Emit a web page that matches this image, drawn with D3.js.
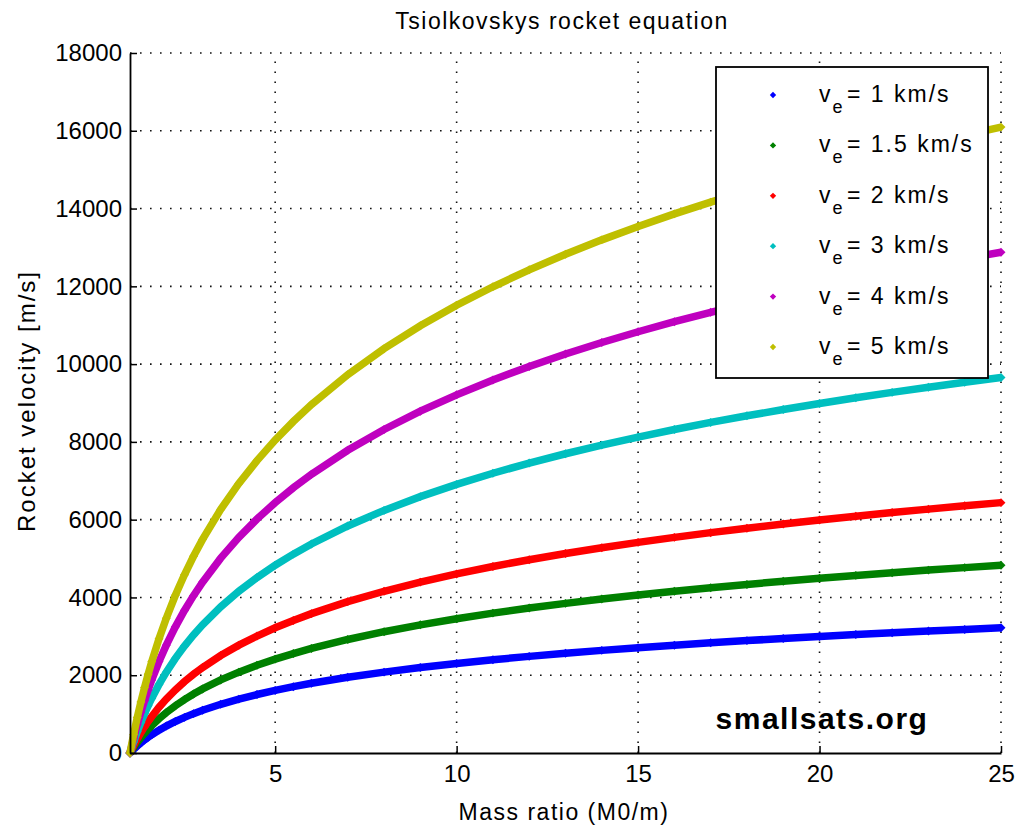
<!DOCTYPE html>
<html>
<head>
<meta charset="utf-8">
<script src="https://cdn.jsdelivr.net/npm/d3@7"></script>
<style>
  body { margin: 0; background: #fff; }
  svg text { font-family: "Liberation Sans", Arial, sans-serif; fill: #000; }
</style>
</head>
<body>
<svg id="chart" width="1016" height="828"></svg>
<script>
// mass ratio samples (M0/m)
var massRatio = [1, 1.1, 1.2, 1.3, 1.4, 1.5, 1.6, 1.8, 2, 2.25, 2.5, 2.75, 3, 3.5, 4, 4.5, 5, 5.5, 6, 7, 8, 9, 10,
    11, 12, 13, 14, 15, 16, 17, 18, 19, 20, 21, 22, 23, 24, 25];

// rocket velocity [m/s], one list per exhaust velocity
var ve1 = [0, 95, 182, 262, 336, 405, 470, 588, 693, 811, 916, 1012, 1099, 1253, 1386, 1504, 1609, 1705, 1792, 1946,
    2079, 2197, 2303, 2398, 2485, 2565, 2639, 2708, 2773, 2833, 2890, 2944, 2996, 3045, 3091, 3135, 3178, 3219];
var ve15 = [0, 143, 273, 394, 504, 608, 705, 882, 1040, 1216, 1374, 1517, 1648, 1879, 2079, 2256, 2414, 2557, 2688, 2919,
    3119, 3296, 3454, 3597, 3727, 3847, 3959, 4062, 4159, 4250, 4335, 4417, 4494, 4567, 4636, 4703, 4767, 4828];
var ve2 = [0, 191, 365, 525, 673, 811, 940, 1176, 1386, 1622, 1833, 2023, 2197, 2506, 2773, 3008, 3219, 3409, 3584, 3892,
    4159, 4394, 4605, 4796, 4970, 5130, 5278, 5416, 5545, 5666, 5781, 5889, 5991, 6089, 6182, 6271, 6356, 6438];
var ve3 = [0, 286, 547, 787, 1009, 1216, 1410, 1763, 2079, 2433, 2749, 3035, 3296, 3758, 4159, 4512, 4828, 5114, 5375, 5838,
    6238, 6592, 6908, 7194, 7455, 7695, 7917, 8124, 8318, 8500, 8671, 8833, 8987, 9134, 9273, 9407, 9534, 9657];
var ve4 = [0, 381, 729, 1049, 1346, 1622, 1880, 2351, 2773, 3244, 3665, 4046, 4394, 5011, 5545, 6016, 6438, 6819, 7167, 7784,
    8318, 8789, 9210, 9592, 9940, 10260, 10556, 10832, 11090, 11333, 11562, 11778, 11983, 12178, 12364, 12542, 12712, 12876];
var ve5 = [0, 477, 912, 1312, 1682, 2027, 2350, 2939, 3466, 4055, 4581, 5058, 5493, 6264, 6931, 7520, 8047, 8524, 8959, 9730,
    10397, 10986, 11513, 11989, 12425, 12825, 13195, 13540, 13863, 14166, 14452, 14722, 14979, 15223, 15455, 15677, 15890, 16094];

var seriesNames = ["1", "1.5", "2", "3", "4", "5"];
var seriesValues = [ve1, ve15, ve2, ve3, ve4, ve5];
var seriesColors = ["#0000ff", "#008000", "#ff0000", "#00bfbf", "#bf00bf", "#bfbf00"];

var xTicks = [5, 10, 15, 20, 25];
var yTicks = [0, 2000, 4000, 6000, 8000, 10000, 12000, 14000, 16000, 18000];

function drawChart() {
    var pLeft = 130, pRight = 1001, pTop = 53, pBottom = 753;

    var svg = d3.select("#chart");

    var x = d3.scaleLinear().domain([1, 25]).range([pLeft, pRight]);
    var y = d3.scaleLinear().domain([0, 18000]).range([pBottom, pTop]);

    // dotted grid
    var grid = svg.append("g")
        .attr("stroke", "#111")
        .attr("stroke-width", 1.6)
        .attr("stroke-dasharray", "1.6,8.4");
    grid.selectAll("line.gx")
        .data(xTicks)
        .enter().append("line")
        .attr("x1", d => x(d)).attr("x2", d => x(d))
        .attr("y1", pBottom).attr("y2", pTop);
    grid.selectAll("line.gy")
        .data(yTicks.filter(d => d > 0))
        .enter().append("line")
        .attr("x1", pLeft).attr("x2", pRight)
        .attr("y1", d => y(d)).attr("y2", d => y(d));

    // curves: thick band + diamond markers
    var line = d3.line()
        .x((d, i) => x(massRatio[i]))
        .y(d => y(d));
    var diamond = d3.symbol().type(d3.symbolSquare).size(40);

    seriesValues.forEach(function (vals, k) {
        var g = svg.append("g");
        g.append("path")
            .attr("d", line(vals))
            .attr("fill", "none")
            .attr("stroke", seriesColors[k])
            .attr("stroke-width", 7.5);
        g.selectAll("path.m")
            .data(vals)
            .enter().append("path")
            .attr("d", diamond)
            .attr("fill", seriesColors[k])
            .attr("transform", (d, i) => "translate(" + x(massRatio[i]) + "," + y(d) + ")rotate(45)");
    });

    // axes
    var xAxis = svg.append("g")
        .attr("transform", "translate(0," + pBottom + ")")
        .call(d3.axisBottom(x).tickValues(xTicks).tickSizeInner(-7).tickSizeOuter(0).tickPadding(12));
    var yAxis = svg.append("g")
        .attr("transform", "translate(" + pLeft + ",0)")
        .call(d3.axisLeft(y).tickValues(yTicks).tickSizeInner(-7).tickSizeOuter(0).tickPadding(8).tickFormat(d3.format("d")));
    [xAxis, yAxis].forEach(function (a) {
        a.select(".domain").attr("stroke", "#000").attr("stroke-width", 1.8);
        a.selectAll(".tick line").attr("stroke", "#000").attr("stroke-width", 1.5);
        a.selectAll("text").attr("font-size", 24).attr("font-family", "Liberation Sans, Arial, sans-serif").attr("fill", "#000");
    });

    // title and axis labels
    svg.append("text")
        .attr("x", 562).attr("y", 29)
        .attr("text-anchor", "middle")
        .attr("font-size", 23)
        .attr("letter-spacing", 1.5)
        .text("Tsiolkovskys rocket equation");
    svg.append("text")
        .attr("x", 564).attr("y", 820)
        .attr("text-anchor", "middle")
        .attr("font-size", 23)
        .attr("letter-spacing", 1.5)
        .text("Mass ratio (M0/m)");
    svg.append("text")
        .attr("transform", "translate(35,401)rotate(-90)")
        .attr("text-anchor", "middle")
        .attr("font-size", 24)
        .attr("letter-spacing", 2)
        .text("Rocket velocity [m/s]");

    // watermark
    svg.append("text")
        .attr("x", 822).attr("y", 729)
        .attr("text-anchor", "middle")
        .attr("font-size", 30)
        .attr("font-weight", "bold")
        .attr("letter-spacing", 1.5)
        .text("smallsats.org");

    // legend
    var legend = svg.append("g");
    legend.append("rect")
        .attr("x", 716).attr("y", 67)
        .attr("width", 272).attr("height", 311)
        .attr("fill", "#fff")
        .attr("stroke", "#000")
        .attr("stroke-width", 1.8);
    var item = legend.selectAll("g.item")
        .data(seriesNames)
        .enter().append("g")
        .attr("transform", (d, i) => "translate(0," + (95 + i * 50.4) + ")");
    item.append("path")
        .attr("d", d3.symbol().type(d3.symbolSquare).size(20))
        .attr("transform", "translate(773,0)rotate(45)")
        .attr("fill", (d, i) => seriesColors[i]);
    var label = item.append("text")
        .attr("x", 819).attr("y", 7)
        .attr("font-size", 23)
        .attr("letter-spacing", 2);
    label.append("tspan").text("v");
    label.append("tspan").attr("font-size", 18).attr("dy", 11).text("e");
    label.append("tspan").attr("dy", -11).attr("x", 847).text(d => "= " + d + " km/s");
}

drawChart();
</script>
</body>
</html>
